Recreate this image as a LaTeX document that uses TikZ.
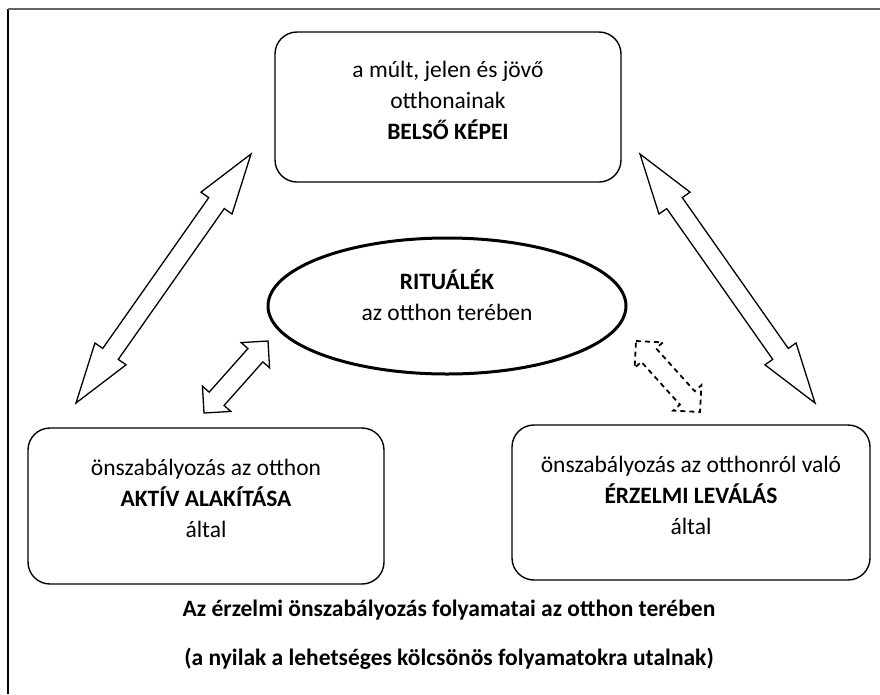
\documentclass[tikz,border=0pt]{standalone}
\usepackage{fontspec}
\setmainfont{Carlito}
\usetikzlibrary{calc,shapes.geometric}
% block double arrow: [style]{from}{to}{head length}{head half width}{shaft half width}
\newcommand\blockarrow[6][]{%
  \draw[#1] let \p1=(#2), \p2=(#3), \n1={atan2(\y2-\y1,\x2-\x1)} in
    (\p1)
    -- ($(\p1)+(\n1:#4)+({\n1+90}:#5)$)
    -- ($(\p1)+(\n1:#4)+({\n1+90}:#6)$)
    -- ($(\p2)+({\n1+180}:#4)+({\n1+90}:#6)$)
    -- ($(\p2)+({\n1+180}:#4)+({\n1+90}:#5)$)
    -- (\p2)
    -- ($(\p2)+({\n1+180}:#4)+({\n1-90}:#5)$)
    -- ($(\p2)+({\n1+180}:#4)+({\n1-90}:#6)$)
    -- ($(\p1)+(\n1:#4)+({\n1-90}:#6)$)
    -- ($(\p1)+(\n1:#4)+({\n1-90}:#5)$)
    -- cycle;}
\begin{document}
\begin{tikzpicture}[x=1pt,y=-1pt,
  txt/.style={font=\fontsize{23.5}{31}\selectfont, align=center, inner sep=0pt},
  captxt/.style={font=\fontsize{23.5}{31}\selectfont\bfseries, align=center, inner sep=0pt},
  box/.style={draw, line width=1.4pt, rounded corners=22pt, inner sep=0pt},
  oval/.style={draw, ellipse, line width=3pt, inner sep=0pt},
  barrow/.style={line width=1.3pt, line join=miter},
  darrow/.style={line width=1.8pt, line join=miter, dash pattern=on 5pt off 4pt}
]
\useasboundingbox (0,0) rectangle (880,694);
% frame
\coordinate (fb) at (8,694);
\coordinate (fc) at (8,9);
\coordinate (fr) at (880,9);
\draw[line width=1.3pt] (fb) -- (fc);
\draw[line width=2pt, black!60] (fc) -- (fr);

% shapes
\node[box, minimum width=346pt, minimum height=150pt] (top) at (448,107) {};
\node[oval, minimum width=358pt, minimum height=136pt] (rit) at (447,306) {};
\node[box, minimum width=356pt, minimum height=156pt] (bl) at (206,506) {};
\node[box, minimum width=358pt, minimum height=155pt] (br) at (691,502.5) {};

% texts
\node[txt] (topt) at (448,100) {a múlt, jelen és jövő\\otthonainak\\\textbf{BELSŐ KÉPEI}};
\node[txt] (ritt) at (447,295) {\textbf{RITUÁLÉK}\\az otthon terében};
\node[txt] (blt) at (206,498) {önszabályozás az otthon\\\textbf{AKTÍV ALAKÍTÁSA}\\által};
\node[txt] (brt) at (691,495) {önszabályozás az otthonról való\\\textbf{ÉRZELMI LEVÁLÁS}\\által};
\node[captxt] (cap1) at (449,610) {Az érzelmi önszabályozás folyamatai az otthon terében};
\node[captxt] (cap2) at (449,659) {(a nyilak a lehetséges kölcsönös folyamatokra utalnak)};

% arrows
\coordinate (la1) at (251,154); \coordinate (la2) at (76,403);
\coordinate (ra1) at (640,154); \coordinate (ra2) at (815,403);
\coordinate (sa1) at (268,341); \coordinate (sa2) at (204,413);
\coordinate (da1) at (636,341); \coordinate (da2) at (700,412);
\blockarrow[barrow]{la1}{la2}{60pt}{19pt}{9.5pt}
\blockarrow[barrow]{ra1}{ra2}{60pt}{19pt}{9.5pt}
\blockarrow[barrow]{sa1}{sa2}{19pt}{19pt}{10pt}
\blockarrow[darrow]{da1}{da2}{19pt}{19pt}{10pt}
\end{tikzpicture}
\end{document}
